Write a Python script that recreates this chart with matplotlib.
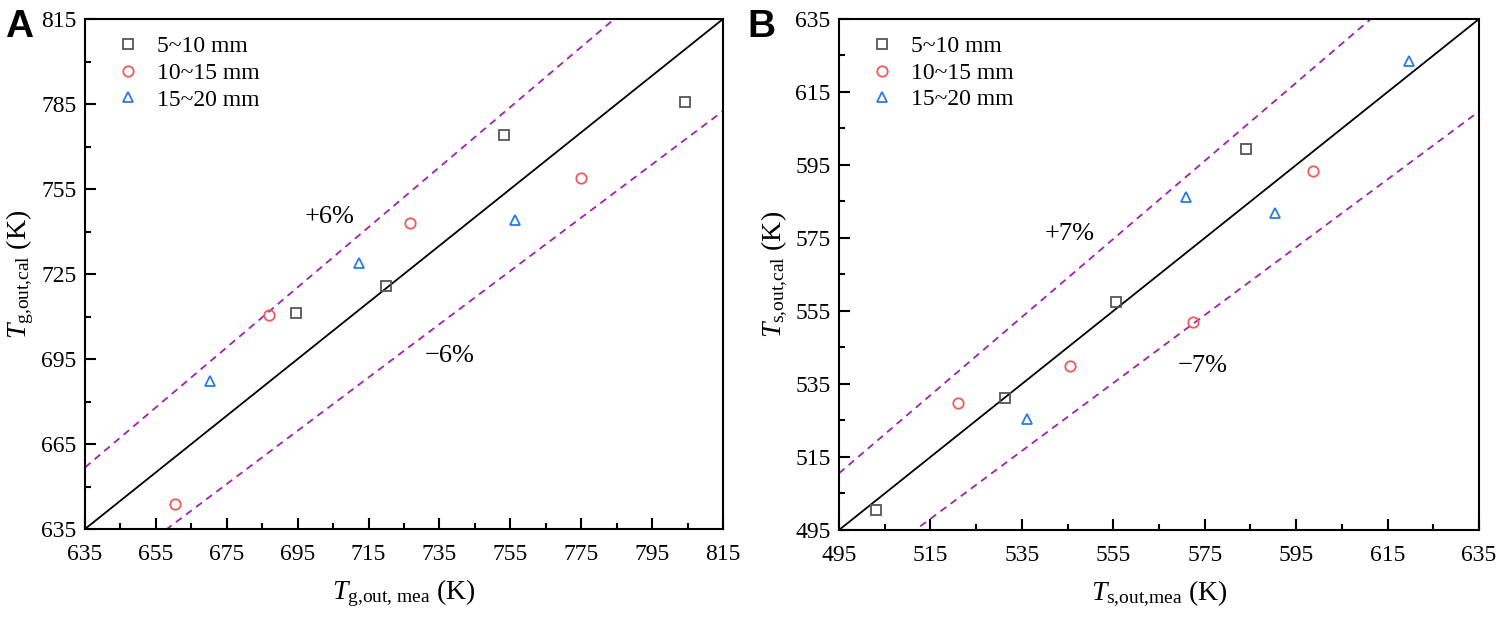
import numpy as np
import matplotlib
matplotlib.use('Agg')
import matplotlib.pyplot as plt

plt.rcParams['font.family'] = ['Liberation Serif', 'DejaVu Serif']
plt.rcParams['mathtext.fontset'] = 'custom'
plt.rcParams['mathtext.rm'] = 'Liberation Serif'
plt.rcParams['mathtext.it'] = 'Liberation Serif:italic'

# panel A: gas outlet temperature (K)
a_sq_x = [694.6, 720.0, 753.2, 804.2]
a_sq_y = [711.4, 720.8, 774.2, 785.7]
a_ci_x = [660.4, 686.9, 726.7, 775.0]
a_ci_y = [643.7, 710.4, 743.0, 758.8]
a_tr_x = [670.4, 712.4, 756.2]
a_tr_y = [687.2, 728.9, 743.9]

# panel B: solid outlet temperature (K)
b_sq_x = [503.2, 531.3, 555.6, 584.0]
b_sq_y = [500.4, 531.3, 557.4, 599.3]
b_ci_x = [521.0, 545.6, 572.4, 598.7]
b_ci_y = [529.7, 539.9, 551.9, 593.3]
b_tr_x = [536.2, 571.0, 590.4, 619.7]
b_tr_y = [525.3, 586.2, 581.8, 623.5]

labels = ['5~10 mm', '10~15 mm', '15~20 mm']
c_sq = '#555555'
c_ci = '#f25858'
c_tr = '#2a7be0'
c_dash = '#a020b0'

fig = plt.figure(figsize=(14.98, 6.17), dpi=100)
axA = fig.add_axes([85/1498, 1-529/617, 638/1498, 510/617])
axB = fig.add_axes([839/1498, 1-530/617, 640/1498, 511/617])


def panel(ax, lim, xmaj, ymaj, pct, sq, ci, tr, xlab, ylab, plus_pos, minus_pos):
    lo, hi = lim
    x = np.array([lo, hi])
    ax.plot(x, x, color='black', lw=1.3, zorder=2)
    # deviation bands relative to Celsius
    ax.plot(x, 273.15 + (1 + pct/100) * (x - 273.15), color=c_dash, lw=1.3, ls=(0, (4, 3)), zorder=2)
    ax.plot(x, 273.15 + (1 - pct/100) * (x - 273.15), color=c_dash, lw=1.3, ls=(0, (4, 3)), zorder=2)
    kw = dict(ls='none', mfc='none', ms=7.5, mew=1.3, zorder=3)
    ax.plot(sq[0], sq[1], marker='s', mec=c_sq, label=labels[0], **kw)
    ax.plot(ci[0], ci[1], marker='o', mec=c_ci, label=labels[1], **kw)
    ax.plot(tr[0], tr[1], marker='^', mec=c_tr, label=labels[2], **kw)
    ax.set_xlim(lo, hi)
    ax.set_ylim(lo, hi)
    ax.set_xticks(np.arange(lo, hi + 1, xmaj))
    ax.set_xticks(np.arange(lo, hi + 1, xmaj / 2), minor=True)
    ax.set_yticks(np.arange(lo, hi + 1, ymaj))
    ax.set_yticks(np.arange(lo, hi + 1, ymaj / 2), minor=True)
    ax.tick_params(which='both', direction='in', top=False, right=False, width=1.5)
    ax.tick_params(which='major', length=8, labelsize=17)
    ax.tick_params(axis='x', which='major', pad=11)
    ax.tick_params(axis='y', which='major', pad=6)
    ax.tick_params(which='minor', length=4.5)
    for s in ax.spines.values():
        s.set_linewidth(1.5)
    ax.set_xlabel(xlab, fontsize=20, labelpad=9)
    ax.set_ylabel(ylab, fontsize=20, labelpad=4)
    ax.text(plus_pos[0], plus_pos[1], '+%d%%' % pct, fontsize=19, ha='center', va='center')
    ax.text(minus_pos[0], minus_pos[1], '\u2212%d%%' % pct, fontsize=19, ha='center', va='center')
    ax.legend(loc='upper left', frameon=False, fontsize=17, handletextpad=0.6,
              labelspacing=0.22, borderaxespad=0.3, handlelength=1.2,
              bbox_to_anchor=(0.02, 1.0))


panel(axA, (635, 815), 20, 30, 6,
      (a_sq_x, a_sq_y), (a_ci_x, a_ci_y), (a_tr_x, a_tr_y),
      r'$T_{\mathrm{g{,}out{,}\ mea}}$ (K)', r'$T_{\mathrm{g{,}out{,}cal}}$ (K)',
      (704, 745), (738, 696))
panel(axB, (495, 635), 20, 20, 7,
      (b_sq_x, b_sq_y), (b_ci_x, b_ci_y), (b_tr_x, b_tr_y),
      r'$T_{\mathrm{s{,}out{,}mea}}$ (K)', r'$T_{\mathrm{s{,}out{,}cal}}$ (K)',
      (545.4, 576), (574.6, 540))

fig.text(5/1498, 1-37/617, 'A', family='Liberation Sans', fontweight='bold', fontsize=28)
fig.text(747/1498, 1-37/617, 'B', family='Liberation Sans', fontweight='bold', fontsize=28)

fig.savefig('out.png', dpi=100)
